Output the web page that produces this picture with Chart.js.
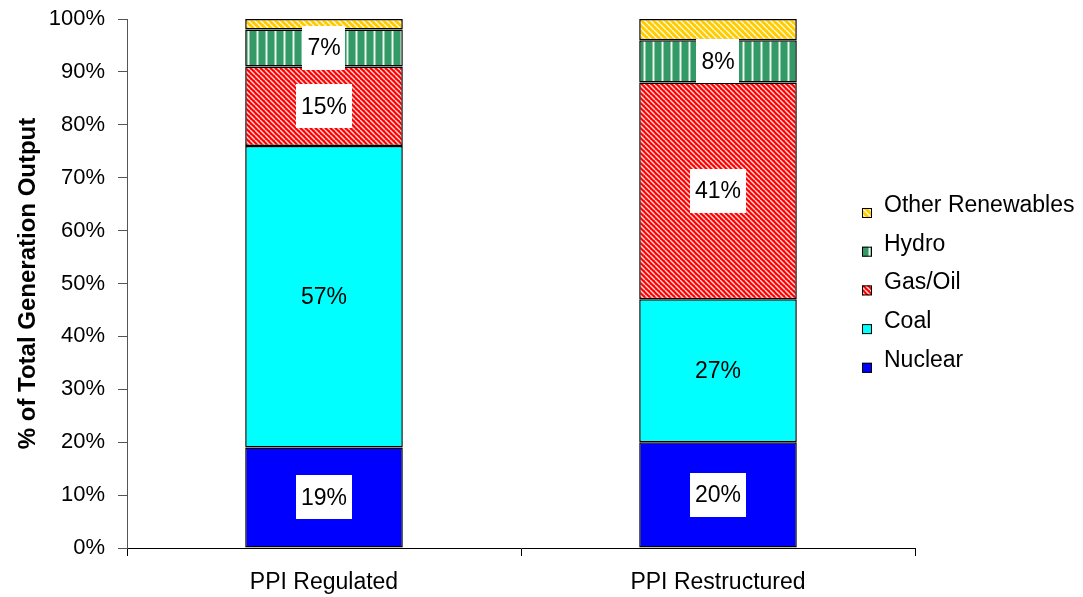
<!DOCTYPE html>
<html>
<head>
<meta charset="utf-8">
<script src="https://cdn.jsdelivr.net/npm/chart.js@4/dist/chart.umd.min.js"></script>
<style>
  html, body { margin: 0; padding: 0; background: #fff; }
  #wrap { width: 1083px; height: 597px; }
</style>
</head>
<body>
<div id="wrap"><canvas id="c" width="1083" height="597"></canvas></div>
<script>
// Share of generation output by fuel, regulated vs restructured PPI states
const categories = ['PPI Regulated', 'PPI Restructured'];
const seriesNames = ['Nuclear', 'Coal', 'Gas/Oil', 'Hydro', 'Other Renewables'];
const nuclear = [19, 20];
const coal = [57, 27];
const gasOil = [15, 41];
const hydro = [7, 8];
const otherRenewables = [2, 4];
const yTickLabels = ['0%', '10%', '20%', '30%', '40%', '50%', '60%', '70%', '80%', '90%', '100%'];

const FONT = '"Liberation Sans", Arial, sans-serif';

// Fill patterns
function diagonalPattern(base, stripe, size, lw) {
  const t = document.createElement('canvas');
  t.width = size; t.height = size;
  const g = t.getContext('2d');
  g.fillStyle = base; g.fillRect(0, 0, size, size);
  g.strokeStyle = stripe; g.lineWidth = lw;
  for (let k = -1; k <= 1; k++) {
    g.beginPath();
    g.moveTo(k * size, 0);
    g.lineTo(k * size + size, size);
    g.stroke();
  }
  return g.createPattern(t, 'repeat');
}
function verticalPattern(base, stripe, size) {
  const t = document.createElement('canvas');
  t.width = size; t.height = 4;
  const g = t.getContext('2d');
  g.fillStyle = base; g.fillRect(0, 0, size, 4);
  g.fillStyle = '#8cc7a5'; g.fillRect(4, 0, 3, 4);
  g.fillStyle = stripe; g.fillRect(5, 0, 1, 4);
  return g.createPattern(t, 'repeat');
}

const fills = [
  '#0000ff',
  '#00ffff',
  diagonalPattern('#ff0000', 'rgba(255,255,255,0.85)', 5, 1.4),
  verticalPattern('#339966', '#eef8f1', 9),
  diagonalPattern('#ffcc00', 'rgba(255,255,255,0.85)', 6, 1.4)
];
const seriesValues = [nuclear, coal, gasOil, hydro, otherRenewables];

// Value labels centred on each segment
const segmentLabels = {
  id: 'segmentLabels',
  afterDatasetsDraw(chart) {
    const ctx = chart.ctx;
    ctx.save();
    ctx.font = '23px ' + FONT;
    ctx.textAlign = 'center';
    ctx.textBaseline = 'middle';
    chart.data.datasets.forEach((ds, di) => {
      if (di === 4) return;
      chart.getDatasetMeta(di).data.forEach((bar, i) => {
        const txt = ds.data[i] + '%';
        const cx = bar.x;
        const cy = (bar.y + bar.base) / 2;
        const w = ctx.measureText(txt).width + 10;
        if (di !== 1) {
          ctx.fillStyle = '#ffffff';
          ctx.fillRect(Math.round(cx - w / 2), Math.round(cy - 22), Math.round(w), 44);
        }
        ctx.fillStyle = '#000000';
        ctx.fillText(txt, cx, cy + 1);
      });
    });
    ctx.restore();
  }
};

// Legend on the right, top entry = top of stack
const sideLegend = {
  id: 'sideLegend',
  afterDraw(chart) {
    const ctx = chart.ctx;
    ctx.save();
    ctx.font = '23px ' + FONT;
    ctx.textAlign = 'left';
    ctx.textBaseline = 'middle';
    const order = [4, 3, 2, 1, 0];
    order.forEach((di, row) => {
      const cy = 204.5 + row * 38.7;
      ctx.fillStyle = chart.data.datasets[di].backgroundColor;
      ctx.fillRect(862, cy + 3.5, 10, 10);
      ctx.strokeStyle = '#000';
      ctx.lineWidth = 1;
      ctx.strokeRect(862.5, cy + 4, 9, 9);
      ctx.fillStyle = '#000';
      ctx.fillText(chart.data.datasets[di].label, 884, cy + 1);
    });
    ctx.restore();
  }
};

new Chart(document.getElementById('c'), {
  type: 'bar',
  data: {
    labels: categories,
    datasets: seriesNames.map((name, i) => ({
      label: name,
      data: seriesValues[i],
      backgroundColor: fills[i],
      borderColor: '#000000',
      borderWidth: 1.5,
      borderSkipped: false,
      barPercentage: 0.4,
      categoryPercentage: 1.0
    }))
  },
  options: {
    responsive: false,
    animation: false,
    layout: { padding: { left: 0, right: 168, top: 19, bottom: 0 } },
    plugins: { legend: { display: false }, tooltip: { enabled: false } },
    scales: {
      x: {
        stacked: true,
        grid: { display: true, drawOnChartArea: false, drawTicks: true, tickLength: 8, color: '#000', offset: true },
        border: { display: true, color: '#000', width: 1 },
        ticks: { font: { size: 23, family: FONT }, color: '#000', padding: 13 },
        afterFit(s) { s.height = 49; s.paddingLeft = 0; s.paddingRight = 0; }
      },
      y: {
        stacked: true,
        min: 0,
        max: 100,
        ticks: {
          stepSize: 10,
          callback: (v, i) => yTickLabels[i],
          font: { size: 22, family: FONT },
          color: '#000',
          padding: 13
        },
        grid: { drawOnChartArea: false, drawTicks: true, tickLength: 9, color: '#555' },
        border: { display: true, color: '#555', width: 1 },
        title: {
          display: true,
          text: '% of Total Generation Output',
          font: { size: 24, weight: 'bold', family: FONT },
          color: '#000',
          padding: { top: 14, bottom: 0 }
        },
        afterFit(s) { s.width = 127; s.paddingTop = 0; s.paddingBottom = 0; }
      }
    }
  },
  plugins: [segmentLabels, sideLegend]
});
</script>
</body>
</html>
